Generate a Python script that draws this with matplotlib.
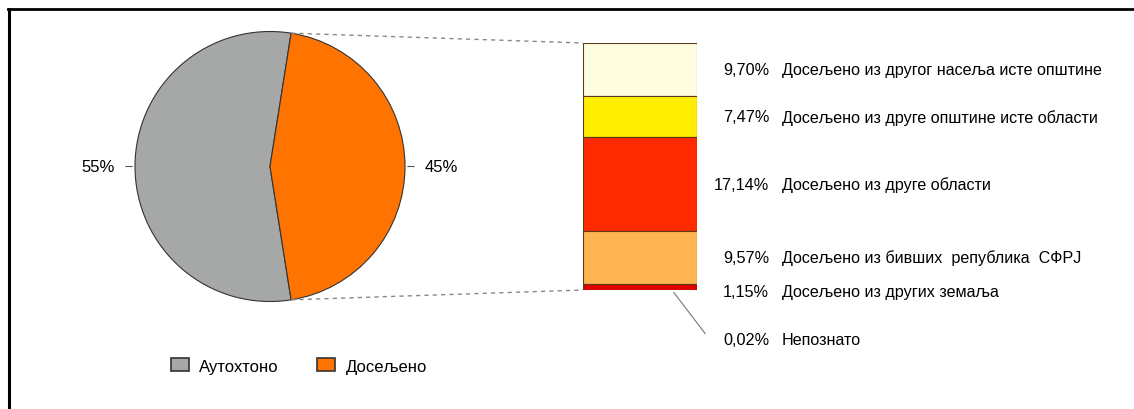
import numpy as np
import matplotlib.pyplot as plt
from matplotlib.lines import Line2D
from matplotlib.patches import Patch
from matplotlib import transforms

plt.rcParams['font.family'] = ['Liberation Sans', 'DejaVu Sans']

# pie data
pie_labels = ['Аутохтоно', 'Досељено']
pie_values = [55, 45]
pie_colors = ['#a6a8a7', '#ff7300']

# breakdown of the migrated share
sub_labels = ['Досељено из другог насеља исте општине',
              'Досељено из друге општине исте области',
              'Досељено из друге области',
              'Досељено из бивших  република  СФРЈ',
              'Досељено из других земаља',
              'Непознато']
sub_values = [9.70, 7.47, 17.14, 9.57, 1.15, 0.02]
sub_colors = ['#fffde0', '#ffee00', '#ff2a00', '#ffb452', '#e00000', '#8b0000']

W, H = 1134, 410
fig = plt.figure(figsize=(W / 100, H / 100), dpi=100)
ax = fig.add_axes([0, 0, 1, 1])

# pie
cx, cy, r = 270, H - 167.5, 135
start = pie_values[1] / sum(pie_values) * 180
wedges, _ = ax.pie(pie_values, colors=pie_colors, startangle=start,
                   center=(cx, cy), radius=r,
                   wedgeprops=dict(edgecolor='#333333', linewidth=0.8))
ax.set_aspect('auto')
ax.set_xlim(0, W)
ax.set_ylim(0, H)
ax.axis('off')

for w, v in zip(wedges, pie_values):
    mid = np.deg2rad((w.theta1 + w.theta2) / 2)
    ex, ey = cx + r * np.cos(mid), cy + r * np.sin(mid)
    sgn = 1 if np.cos(mid) > 0 else -1
    ax.annotate('', xy=(ex, ey), xytext=(ex + sgn * 12, ey),
                arrowprops=dict(arrowstyle='-', color='#555555', lw=0.8))
    ax.text(ex + sgn * 20, ey, f'{v}%', ha='left' if sgn > 0 else 'right',
            va='center', fontsize=12)

# stacked bar
bx0, bx1, by0, by1 = 583, 697, 44, 291
bax = fig.add_axes([bx0 / W, (H - by1) / H, (bx1 - bx0) / W, (by1 - by0) / H])
total = sum(sub_values)
bottoms = np.concatenate([[0], np.cumsum(sub_values)[:-1]])
bax.bar(0.5, sub_values, width=1, bottom=bottoms, color=sub_colors,
        edgecolor='#5a3a1a', linewidth=0.8)
bax.set_xlim(0, 1)
bax.set_ylim(total, 0)
bax.axis('off')

# dashed connectors pie -> bar
t_top = np.deg2rad(wedges[1].theta2)
t_bot = np.deg2rad(wedges[1].theta1)
for t, yb in [(t_top, H - by0), (t_bot, H - by1)]:
    ax.plot([cx + r * np.cos(t), bx0], [cy + r * np.sin(t), yb],
            color='#888888', lw=1, ls=(0, (3, 3)))

# labels of the bar
trans = transforms.blended_transform_factory(ax.transData, bax.transData)
shifts = [0, 0, 0, 0, 0.8, 9.1]
for v, b, lab, s in zip(sub_values, bottoms, sub_labels, shifts):
    y = b + v / 2 + s
    ax.text(769, y, f'{v:.2f}'.replace('.', ',') + '%', transform=trans,
            ha='right', va='center', fontsize=11.7)
    ax.text(782, y, lab, transform=trans, ha='left', va='center', fontsize=11.6)
bax.annotate('', xy=(0.78, total), xycoords='data',
             xytext=(707, bottoms[-1] + 8.4), textcoords=trans,
             arrowprops=dict(arrowstyle='-', color='#777777', lw=0.8))

# legend
handles = [Patch(facecolor=c, edgecolor='#333333', lw=1.2) for c in pie_colors]
fig.legend(handles, pie_labels, loc='center left',
           bbox_to_anchor=(171 / W, (H - 367) / H), ncol=2, frameon=False,
           fontsize=12, handlelength=1.05, handleheight=0.8,
           handletextpad=0.65, columnspacing=2.3,
           borderpad=0, borderaxespad=0)

# frame (top and left border)
fig.add_artist(Line2D([8 / W, 1], [(H - 10) / H] * 2, color='black', lw=2))
fig.add_artist(Line2D([9 / W] * 2, [0, (H - 10) / H], color='black', lw=2.2))

fig.savefig('out.png', dpi=100)
